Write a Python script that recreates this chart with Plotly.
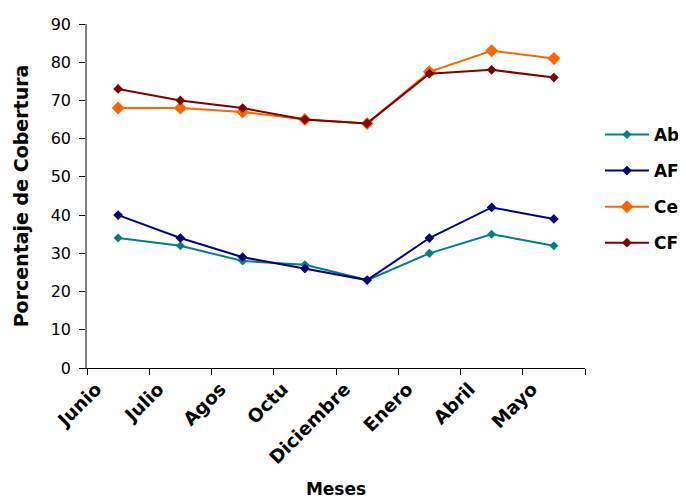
import plotly.graph_objects as go

meses = ["Junio", "Julio", "Agos", "Octu", "Diciembre", "Enero", "Abril", "Mayo"]
ab = [34, 32, 28, 27, 23, 30, 35, 32]
af = [40, 34, 29, 26, 23, 34, 42, 39]
ce = [68, 68, 67, 65, 64, 77.5, 83, 81]
cf = [73, 70, 68, 65, 64, 77, 78, 76]

series = [
    ("Ab", ab, "#008080", 7),
    ("AF", af, "#000080", 7.5),
    ("Ce", ce, "#FF6600", 10),
    ("CF", cf, "#800000", 7.5),
]

fig = go.Figure()
for name, vals, color, msize in series:
    fig.add_trace(go.Scatter(
        x=meses, y=vals, name=name, mode="lines+markers",
        legendgroup=name,
        line=dict(color=color, width=2),
        marker=dict(symbol="diamond", size=msize, color=color),
    ))

font_family = "DejaVu Sans, Liberation Sans, Arial, sans-serif"
fig.update_layout(
    width=686, height=500,
    margin=dict(l=79, r=109, t=16, b=140, autoexpand=False),
    paper_bgcolor="white", plot_bgcolor="white",
    font=dict(family=font_family, color="black", size=15),
    showlegend=True,
    legend=dict(
        x=1.03, y=0.73, xanchor="left", yanchor="top",
        font=dict(size=17, weight="bold"),
        tracegroupgap=11,
        itemwidth=44,
        bgcolor="rgba(0,0,0,0)",
    ),
    xaxis=dict(
        type="category",
        automargin=False,
        tickangle=-45,
        tickson="boundaries",
        ticks="outside", ticklen=6, tickcolor="black",
        showline=True, linecolor="black", linewidth=1,
        showgrid=False,
        tickfont=dict(size=18.5, weight="bold"),
        ticklabelshift=-22,
        ticklabelstandoff=2,
        title=dict(text="Meses", font=dict(size=17, weight="bold"), standoff=16),
        range=[-0.5, 7.5],
    ),
    yaxis=dict(
        automargin=False,
        range=[0, 90], dtick=10,
        ticks="outside", ticklen=6, tickcolor="black",
        showline=True, linecolor="#808080", linewidth=1.5,
        showgrid=False, zeroline=False,
        tickfont=dict(size=16),
        ticklabelstandoff=5,
        title=dict(text="Porcentaje de Cobertura", font=dict(size=19, weight="bold"), standoff=17),
    ),
)

fig.write_html("out.html")
